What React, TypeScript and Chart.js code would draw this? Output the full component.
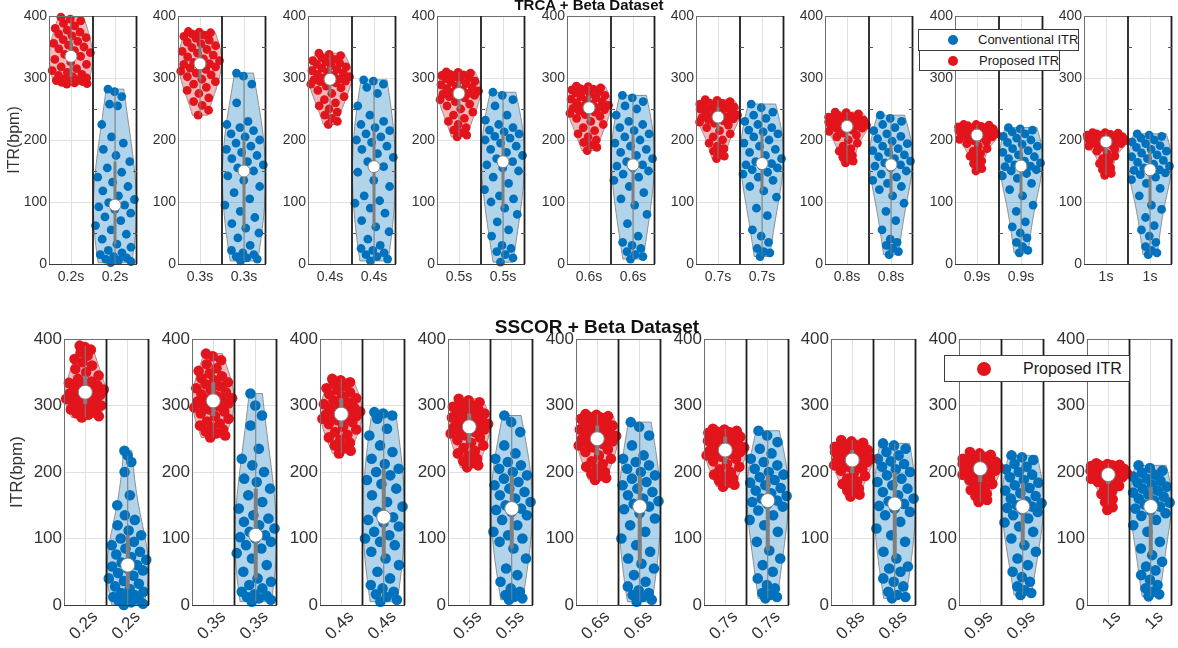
import React, { useEffect, useRef } from "react";
import { Chart, registerables } from "chart.js";

Chart.register(...registerables);

const FONT = "'Liberation Sans', Arial, Helvetica, sans-serif";
Chart.defaults.font.family = FONT;

// Decision windows shown under each pair of violins
const WINDOWS = ["0.2s", "0.3s", "0.4s", "0.5s", "0.6s", "0.7s", "0.8s", "0.9s", "1s"];

// ITR (bpm) per subject, one list per decision window
const TRCA_PROPOSED: number[][] = [
  [290,291,292,293,294,295,296,297,298,300,302,304,306,309,312,315,318,322,326,330,335,338,341,344,347,350,353,356,359,362,365,368,371,374,377,380,384,388,392,395,398],
  [240,248,256,262,268,275,280,285,290,294,298,302,305,308,311,314,316,318,320,322,323,325,328,331,334,337,340,343,346,349,352,355,358,361,364,367,369,371,373,374,375],
  [225,230,235,240,245,250,255,260,265,270,275,280,284,287,290,292,294,295,296,297,298,300,302,304,306,308,310,312,314,316,318,320,322,324,326,328,330,333,336,338,340],
  [205,208,212,216,220,225,230,235,240,245,250,255,258,262,265,268,270,272,273,274,275,277,279,281,283,285,287,289,291,293,295,297,299,300,302,304,305,306,308,309,310],
  [183,188,192,196,200,205,210,215,220,225,230,235,238,241,243,245,247,249,250,251,252,254,256,258,260,262,264,266,268,270,272,274,276,278,280,281,282,283,284,286,287],
  [170,174,178,182,186,190,195,200,205,210,215,220,224,227,229,231,233,234,235,236,237,238,240,242,244,246,248,250,251,252,253,254,255,256,257,258,259,260,262,264,265],
  [163,166,169,172,175,178,182,186,190,195,200,205,208,211,214,216,218,219,220,221,222,223,224,225,226,227,228,229,230,231,232,233,234,235,236,237,238,240,242,244,245],
  [150,154,158,162,166,170,174,178,182,186,190,194,197,199,201,203,204,205,206,207,208,209,210,211,212,213,214,215,216,217,218,218,219,220,220,221,222,223,224,225,225],
  [143,146,149,152,155,158,162,166,170,174,178,182,185,188,190,192,193,194,195,196,197,198,199,200,200,201,202,203,203,204,205,205,206,207,208,208,209,210,211,212,212],
];

const TRCA_CONVENTIONAL: number[][] = [
  [2,4,6,8,10,12,15,18,22,27,32,40,48,55,62,70,76,82,88,92,95,99,104,110,118,125,132,140,148,155,165,175,185,195,205,225,255,258,270,278,282],
  [5,8,10,12,15,18,22,30,42,50,58,65,75,85,95,105,115,125,135,142,150,155,160,165,170,175,180,185,190,195,200,205,210,215,220,225,230,260,290,303,308],
  [5,8,12,15,18,22,25,30,40,52,60,70,82,90,98,102,110,125,135,148,157,165,172,178,185,190,196,200,205,210,215,220,225,230,240,255,275,285,290,295,297],
  [3,10,15,20,25,30,45,55,68,80,90,100,105,110,120,130,140,150,155,160,165,170,175,180,185,190,195,200,203,206,210,213,216,220,225,232,240,255,265,272,277],
  [8,12,15,20,25,30,35,45,65,80,95,105,115,125,135,140,145,150,155,158,160,165,170,175,180,185,190,195,200,205,210,215,220,225,230,240,250,255,262,268,272],
  [12,18,20,25,35,45,55,78,90,108,118,125,135,140,145,148,152,155,158,160,162,165,170,175,180,185,190,195,200,205,210,213,216,220,225,230,235,240,245,252,258],
  [15,20,25,30,35,40,55,70,85,98,110,120,125,130,135,140,145,150,155,158,160,163,166,170,173,176,180,183,186,190,194,198,202,206,210,215,220,225,230,235,240],
  [18,22,28,35,42,50,60,68,85,95,110,120,130,138,142,146,150,152,155,157,158,160,163,166,170,173,176,180,183,186,190,193,196,200,203,206,210,213,216,218,220],
  [15,18,22,28,35,45,55,62,75,88,95,110,122,130,136,140,144,147,149,151,152,155,158,161,164,167,170,173,176,179,182,185,188,191,194,197,200,203,206,208,210],
];

const SSCOR_PROPOSED: number[][] = [
  [282,284,286,288,290,292,294,296,298,300,302,304,306,308,310,312,314,316,317,318,320,322,324,326,328,330,332,334,336,340,345,350,355,360,365,370,375,380,384,388,390],
  [252,255,258,261,264,267,270,273,276,280,284,288,291,294,297,299,301,303,305,306,307,309,311,314,317,320,323,326,329,332,335,338,341,344,348,352,356,362,368,374,378],
  [228,232,236,240,244,248,252,256,260,264,268,272,275,278,280,282,283,284,285,286,287,289,291,293,295,297,299,302,305,308,311,314,317,320,323,326,329,332,335,338,340],
  [207,210,213,216,220,224,228,232,236,240,244,248,252,255,258,260,262,264,266,267,268,270,272,274,276,278,280,282,284,286,288,290,292,294,296,298,300,302,305,308,310],
  [188,191,194,197,200,204,208,212,216,220,225,230,234,237,240,242,244,246,248,249,250,252,254,256,258,260,262,264,266,268,270,272,274,276,278,280,282,283,284,286,287],
  [178,181,184,187,190,193,196,200,204,208,212,216,220,223,225,227,229,230,231,232,233,235,237,239,241,243,245,247,249,251,253,255,256,257,258,259,260,261,262,264,265],
  [163,166,169,172,175,178,182,186,190,194,198,202,205,208,210,212,214,215,216,217,218,219,220,222,224,226,228,230,231,232,233,234,235,236,237,238,240,242,244,246,248],
  [155,158,161,164,167,170,173,176,179,182,185,188,191,194,196,198,200,202,203,204,205,206,207,208,209,210,211,212,213,214,215,216,217,218,219,220,222,224,226,228,230],
  [143,147,151,155,159,163,167,171,175,179,182,185,187,189,190,191,192,193,194,195,196,197,198,199,200,200,201,202,203,204,205,205,206,207,208,209,210,210,211,212,213],
];

const SSCOR_CONVENTIONAL: number[][] = [
  [0,2,4,6,8,10,12,15,18,20,24,28,32,36,40,44,48,52,55,58,60,64,68,72,76,80,85,90,95,100,105,112,120,128,135,150,165,200,215,225,232],
  [5,8,10,12,14,16,20,25,30,35,40,50,60,70,78,85,90,95,100,102,105,110,115,120,125,130,135,145,155,165,175,185,190,200,210,220,235,270,285,300,318],
  [5,8,12,16,20,25,30,40,50,60,70,80,90,95,100,105,110,118,124,128,132,140,148,155,165,175,182,188,195,200,205,212,220,230,240,255,265,280,285,288,290],
  [8,10,12,15,20,25,35,45,55,70,85,95,100,105,110,120,128,135,140,143,145,150,155,160,165,170,175,180,185,190,195,200,205,210,215,220,228,240,260,275,285],
  [5,8,12,15,18,22,28,35,45,55,62,70,80,90,100,110,120,130,138,144,148,152,156,160,165,170,175,180,185,190,195,200,205,210,215,220,225,240,255,268,275],
  [10,12,15,18,25,30,40,50,60,70,82,95,110,120,128,135,142,148,152,155,157,160,164,168,172,176,180,184,188,192,196,200,205,210,215,220,228,235,245,255,262],
  [10,12,15,20,28,35,40,50,55,58,70,80,95,105,115,125,135,140,145,149,152,156,160,165,170,175,180,185,190,195,200,204,208,212,216,220,225,230,235,240,243],
  [15,18,22,28,35,42,50,60,70,80,90,100,110,118,124,130,135,140,143,146,148,150,153,156,160,164,168,172,176,180,184,188,192,196,200,204,208,212,218,222,225],
  [13,16,20,25,30,38,45,52,58,65,75,85,95,110,120,128,134,138,142,145,148,151,154,157,160,163,166,169,172,175,178,181,184,187,190,193,196,199,202,206,210],
];

const Y_MIN = 0;
const Y_MAX = 400;
const Y_STEP = 100;
const HALF_TICKS = [50, 150, 250, 350];

const RED = "#e2141c";
const BLUE = "#0072bd";
const RED_FILL = "rgba(226, 20, 28, 0.3)";
const BLUE_FILL = "rgba(0, 114, 189, 0.3)";
const STAT_GRAY = "#7f7f7f";
const OUTLINE = "#8c8c8c";
const GRID = "#e2e2e2";
const TEXT = "#333333";

// Half width of a violin, in units of one sub-axis (each sub-axis spans 1)
const HALF_W = 0.49;
// Smoothing applied on top of the rule-of-thumb kernel bandwidth
const BW_SCALE = 1.9;

type RowStyle = {
  canvasTop: number; plotTop: number; plotBottom: number; firstLeft: number; pitch: number;
  plotW: number; xAxisH: number; tickFont: number; titleFont: number; titlePad: number;
  dotR: number; medianR: number; boxW: number; rotation: number; labelOffset: number;
  labelPad: number; halfTicks: boolean;
};

const TOP_ROW: RowStyle = {
  canvasTop: 0, plotTop: 16, plotBottom: 264, firstLeft: 49, pitch: 129.4, plotW: 88, xAxisH: 24,
  tickFont: 14, titleFont: 16, titlePad: 5, dotR: 4.4, medianR: 6, boxW: 3, rotation: 0,
  labelOffset: 0, labelPad: 5, halfTicks: true,
};

const BOTTOM_ROW: RowStyle = {
  canvasTop: 320, plotTop: 339, plotBottom: 605, firstLeft: 64, pitch: 127.9, plotW: 85, xAxisH: 43,
  tickFont: 17, titleFont: 17, titlePad: 7, dotR: 5.3, medianR: 7, boxW: 4, rotation: 45,
  labelOffset: 10, labelPad: 2, halfTicks: false,
};

function median(arr: number[]) {
  const s = [...arr].sort((a, b) => a - b);
  const m = (s.length - 1) / 2;
  return (s[Math.floor(m)] + s[Math.ceil(m)]) / 2;
}

// Kernel density outline and summary statistics of one group
function buildViolin(vals: number[]) {
  const s = [...vals].sort((a, b) => a - b);
  const n = s.length;
  const q = (p: number) => {
    const pos = (n - 1) * p;
    const lo = Math.floor(pos);
    const hi = Math.ceil(pos);
    return s[lo] + (s[hi] - s[lo]) * (pos - lo);
  };
  const med = q(0.5);
  const q1 = q(0.25);
  const q3 = q(0.75);
  const iqr = q3 - q1;
  const lowAdj = s.find((v) => v >= q1 - 1.5 * iqr) as number;
  const highAdj = [...s].reverse().find((v) => v <= q3 + 1.5 * iqr) as number;
  const sig = median(s.map((v) => Math.abs(v - med))) / 0.6745;
  const h = Math.max(BW_SCALE * sig * Math.pow(4 / (3 * n), 0.2), 6);
  const dens = (y: number) => s.reduce((a, v) => a + Math.exp(-0.5 * ((y - v) / h) ** 2), 0);
  const steps = 70;
  const ys: number[] = [];
  for (let k = 0; k <= steps; k++) ys.push(s[0] + ((s[n - 1] - s[0]) * k) / steps);
  const ds = ys.map(dens);
  const dmax = Math.max(...ds);
  return {
    sorted: s, med, q1, q3, lowAdj, highAdj, ys,
    ws: ds.map((d) => d / dmax),
    width: (y: number) => dens(y) / dmax,
  };
}

// Spread of the scatter inside the violin, in [-1, 1]
const spread = (i: number) => (((i * 0.6180339887 + 0.37) % 1) * 2 - 1);

type PanelProps = { row: RowStyle; index: number; proposed: number[]; conventional: number[]; label: string };

function ViolinPanel({ row, index, proposed, conventional, label }: PanelProps) {
  const ref = useRef<HTMLCanvasElement>(null);
  const plotLeft = Math.round(row.firstLeft + row.pitch * index);
  const canvasLeft = index === 0 ? 0 : plotLeft - 40;
  const axisW = plotLeft - canvasLeft;
  const padR = 8;
  const width = axisW + row.plotW + padR;
  const height = row.plotBottom + row.xAxisH - row.canvasTop;

  useEffect(() => {
    if (!ref.current) return;
    const groups = [
      { center: 0.5, color: RED, fill: RED_FILL, v: buildViolin(proposed) },
      { center: 1.5, color: BLUE, fill: BLUE_FILL, v: buildViolin(conventional) },
    ];

    const datasets = groups.map((g) => ({
      type: "scatter" as const,
      data: g.v.sorted.map((y, i) => ({ x: g.center + spread(i) * HALF_W * 0.97 * g.v.width(y), y })),
      pointRadius: row.dotR,
      pointBackgroundColor: g.color,
      pointBorderWidth: 0,
      clip: false as const,
    }));

    const violinLayers = {
      id: "violinLayers",
      beforeDatasetsDraw(chart: any) {
        const { ctx } = chart;
        const xs = chart.scales.x;
        const ys = chart.scales.y;
        for (const g of groups) {
          const v = g.v;
          ctx.save();
          ctx.beginPath();
          v.ys.forEach((y, k) => {
            const px = xs.getPixelForValue(g.center + HALF_W * v.ws[k]);
            const py = ys.getPixelForValue(y);
            if (k === 0) ctx.moveTo(px, py);
            else ctx.lineTo(px, py);
          });
          for (let k = v.ys.length - 1; k >= 0; k--) {
            ctx.lineTo(xs.getPixelForValue(g.center - HALF_W * v.ws[k]), ys.getPixelForValue(v.ys[k]));
          }
          ctx.closePath();
          ctx.fillStyle = g.fill;
          ctx.fill();
          ctx.lineWidth = 1;
          ctx.strokeStyle = OUTLINE;
          ctx.stroke();
          ctx.restore();
        }
      },
      afterDatasetsDraw(chart: any) {
        const { ctx } = chart;
        const xs = chart.scales.x;
        const ys = chart.scales.y;
        for (const g of groups) {
          const v = g.v;
          const cx = xs.getPixelForValue(g.center);
          ctx.save();
          ctx.strokeStyle = STAT_GRAY;
          ctx.lineWidth = 1;
          ctx.beginPath();
          ctx.moveTo(cx, ys.getPixelForValue(v.lowAdj));
          ctx.lineTo(cx, ys.getPixelForValue(v.highAdj));
          ctx.stroke();
          ctx.lineWidth = row.boxW;
          ctx.beginPath();
          ctx.moveTo(cx, ys.getPixelForValue(v.q1));
          ctx.lineTo(cx, ys.getPixelForValue(v.q3));
          ctx.stroke();
          ctx.beginPath();
          ctx.arc(cx, ys.getPixelForValue(v.med), row.medianR, 0, Math.PI * 2);
          ctx.fillStyle = "#ffffff";
          ctx.fill();
          ctx.lineWidth = 1;
          ctx.strokeStyle = STAT_GRAY;
          ctx.stroke();
          ctx.restore();
        }
      },
      afterDraw(chart: any) {
        const { ctx, chartArea } = chart;
        const { left, right, top, bottom } = chartArea;
        const xs = chart.scales.x;
        const ys = chart.scales.y;
        const mid = xs.getPixelForValue(1);
        ctx.save();
        ctx.lineWidth = 1;
        ctx.strokeStyle = "#6e6e6e";
        ctx.strokeRect(left + 0.5, top + 0.5, right - left - 1, bottom - top);
        ctx.strokeStyle = "#1e1e1e";
        ctx.lineWidth = 1.8;
        ctx.beginPath();
        ctx.moveTo(mid, top);
        ctx.lineTo(mid, bottom);
        ctx.moveTo(right - 0.5, top);
        ctx.lineTo(right - 0.5, bottom);
        ctx.stroke();
        ctx.lineWidth = 1.2;
        ctx.strokeStyle = "#3a3a3a";
        ctx.beginPath();
        ctx.moveTo(left, bottom + 0.5);
        ctx.lineTo(right, bottom + 0.5);
        ctx.stroke();
        if (row.halfTicks) {
          ctx.lineWidth = 1;
          ctx.strokeStyle = "#555555";
          ctx.beginPath();
          for (const t of HALF_TICKS) {
            const py = Math.round(ys.getPixelForValue(t)) + 0.5;
            ctx.moveTo(mid, py);
            ctx.lineTo(mid + 4, py);
            ctx.moveTo(right - 4, py);
            ctx.lineTo(right, py);
          }
          ctx.stroke();
        }
        ctx.restore();
      },
    };

    const chart = new Chart(ref.current, {
      type: "scatter",
      data: { datasets: datasets as any },
      options: {
        responsive: false,
        animation: false,
        devicePixelRatio: 1,
        events: [],
        layout: { padding: { top: row.plotTop - row.canvasTop, right: padR, bottom: 0, left: 0 } },
        plugins: { legend: { display: false }, tooltip: { enabled: false } },
        scales: {
          x: {
            type: "linear",
            min: 0,
            max: 2,
            afterBuildTicks: (s: any) => {
              s.ticks = [{ value: 0.5 }, { value: 1.5 }];
            },
            afterFit: (s: any) => {
              s.height = row.xAxisH;
            },
            ticks: {
              callback: () => label,
              autoSkip: false,
              minRotation: row.rotation,
              maxRotation: row.rotation,
              labelOffset: row.labelOffset,
              padding: row.labelPad,
              color: TEXT,
              font: { size: row.tickFont, family: FONT },
            },
            grid: { color: GRID, drawTicks: false, lineWidth: 1 },
            border: { display: false },
          },
          y: {
            type: "linear",
            min: Y_MIN,
            max: Y_MAX,
            afterFit: (s: any) => {
              s.width = axisW;
            },
            ticks: {
              stepSize: Y_STEP,
              padding: 2,
              color: TEXT,
              font: { size: row.tickFont, family: FONT },
            },
            grid: { color: GRID, drawTicks: false, lineWidth: 1 },
            border: { display: false },
            title: {
              display: index === 0,
              text: "ITR(bpm)",
              color: TEXT,
              font: { size: row.titleFont, family: FONT },
              padding: { top: row.titlePad, bottom: 0 },
            },
          },
        },
      },
      plugins: [violinLayers],
    } as any);
    return () => chart.destroy();
  }, []);

  return (
    <canvas
      ref={ref}
      width={width}
      height={height}
      style={{ position: "absolute", left: canvasLeft, top: row.canvasTop, width, height }}
    />
  );
}

function LegendDot({ color, size }: { color: string; size: number }) {
  return (
    <span
      style={{
        position: "absolute", width: size, height: size, borderRadius: "50%", background: color,
      }}
    />
  );
}

export default function App() {
  const legendBox: React.CSSProperties = {
    position: "absolute", background: "#ffffff", border: "1px solid #3c3c3c",
    boxSizing: "border-box", zIndex: 5, fontFamily: FONT, color: "#1a1a1a",
  };
  return (
    <div
      style={{
        position: "fixed", left: 0, top: 0, width: 1178, height: 648, background: "#ffffff",
        overflow: "hidden", fontFamily: FONT,
      }}
    >
      {WINDOWS.map((w, i) => (
        <ViolinPanel key={"t" + w} row={TOP_ROW} index={i} proposed={TRCA_PROPOSED[i]} conventional={TRCA_CONVENTIONAL[i]} label={w} />
      ))}
      {WINDOWS.map((w, i) => (
        <ViolinPanel key={"b" + w} row={BOTTOM_ROW} index={i} proposed={SSCOR_PROPOSED[i]} conventional={SSCOR_CONVENTIONAL[i]} label={w} />
      ))}

      <div
        style={{
          position: "absolute", left: 489, width: 200, top: -3, lineHeight: "15px", textAlign: "center",
          fontWeight: "bold", fontSize: 15, color: "#111", zIndex: 5,
        }}
      >
        TRCA + Beta Dataset
      </div>
      <div
        style={{
          position: "absolute", left: 447, width: 300, top: 317, lineHeight: "19px", textAlign: "center",
          fontWeight: "bold", fontSize: 19, color: "#111", zIndex: 5,
        }}
      >
        SSCOR + Beta Dataset
      </div>

      <div style={{ ...legendBox, left: 918, top: 29, width: 161, height: 22 }}>
        <div style={{ position: "absolute", left: 29, top: 5 }}>
          <LegendDot color={BLUE} size={10} />
        </div>
        <div style={{ position: "absolute", left: 59, top: 0, lineHeight: "20px", fontSize: 13, whiteSpace: "nowrap" }}>
          Conventional ITR
        </div>
      </div>
      <div style={{ ...legendBox, left: 919, top: 50, width: 141, height: 21 }}>
        <div style={{ position: "absolute", left: 28, top: 5 }}>
          <LegendDot color={RED} size={10} />
        </div>
        <div style={{ position: "absolute", left: 59, top: 0, lineHeight: "19px", fontSize: 13, whiteSpace: "nowrap" }}>
          Proposed ITR
        </div>
      </div>

      <div style={{ ...legendBox, left: 944, top: 355, width: 186, height: 27 }}>
        <div style={{ position: "absolute", left: 32, top: 6 }}>
          <LegendDot color={RED} size={14} />
        </div>
        <div style={{ position: "absolute", left: 78, top: 0, lineHeight: "25px", fontSize: 16, whiteSpace: "nowrap" }}>
          Proposed ITR
        </div>
      </div>
    </div>
  );
}
